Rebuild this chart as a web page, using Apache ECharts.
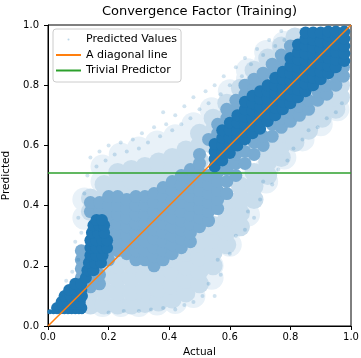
<!DOCTYPE html>
<html>
<head>
<meta charset="utf-8">
<script src="https://cdn.jsdelivr.net/npm/echarts@6/dist/echarts.min.js"></script>
<style>
  html, body { margin: 0; padding: 0; background: #fff; }
  #chart { width: 361px; height: 358px; }
</style>
</head>
<body>
<div id="chart"></div>
<script>
// values: [actual, predicted]
// the predictor's floor (y ~ 0.047)
var floorValues = [
  [0.006, 0.047], [0.018, 0.047], [0.03, 0.047], [0.042, 0.047], [0.054, 0.047],
  [0.066, 0.047], [0.078, 0.047], [0.09, 0.047], [0.102, 0.047], [0.112, 0.047]
];

// where the cloud is solid blue
var denseValues = [
  [0.03, 0.06], [0.05, 0.06], [0.07, 0.06], [0.09, 0.06], [0.11, 0.06],
  [0.045, 0.08], [0.065, 0.08], [0.085, 0.08], [0.105, 0.08],
  [0.055, 0.10], [0.075, 0.10], [0.095, 0.10], [0.112, 0.10],
  [0.07, 0.12], [0.09, 0.12], [0.11, 0.12],
  [0.09, 0.14], [0.11, 0.14],
  [0.125, 0.16], [0.13, 0.185], [0.15, 0.185],
  [0.135, 0.21], [0.155, 0.21], [0.175, 0.21],
  [0.14, 0.235], [0.16, 0.235], [0.18, 0.235],
  [0.14, 0.26], [0.16, 0.26], [0.18, 0.26], [0.195, 0.26],
  [0.14, 0.285], [0.16, 0.285], [0.18, 0.285], [0.195, 0.285],
  [0.145, 0.31], [0.165, 0.31], [0.185, 0.31],
  [0.15, 0.335], [0.17, 0.335], [0.185, 0.335],
  [0.16, 0.352], [0.178, 0.352],
  [0.55, 0.53], [0.55, 0.555], [0.55, 0.58], [0.55, 0.605],
  [0.575, 0.55], [0.575, 0.575], [0.575, 0.6], [0.575, 0.625], [0.575, 0.65],
  [0.6, 0.575], [0.6, 0.6], [0.6, 0.625], [0.6, 0.65], [0.6, 0.675],
  [0.625, 0.6], [0.625, 0.625], [0.625, 0.65], [0.625, 0.675], [0.625, 0.7],
  [0.65, 0.62], [0.65, 0.645], [0.65, 0.67], [0.65, 0.695], [0.65, 0.72], [0.65, 0.745],
  [0.675, 0.64], [0.675, 0.665], [0.675, 0.69], [0.675, 0.715], [0.675, 0.74], [0.675, 0.765],
  [0.7, 0.655], [0.7, 0.68], [0.7, 0.705], [0.7, 0.73], [0.7, 0.755], [0.7, 0.78],
  [0.725, 0.68], [0.725, 0.705], [0.725, 0.73], [0.725, 0.755], [0.725, 0.78], [0.725, 0.8],
  [0.75, 0.7], [0.75, 0.725], [0.75, 0.75], [0.75, 0.775], [0.75, 0.8], [0.75, 0.825],
  [0.775, 0.72], [0.775, 0.745], [0.775, 0.77], [0.775, 0.795], [0.775, 0.82], [0.775, 0.845],
  [0.8, 0.74], [0.8, 0.765], [0.8, 0.79], [0.8, 0.815], [0.8, 0.84], [0.8, 0.865], [0.8, 0.89],
  [0.825, 0.76], [0.825, 0.785], [0.825, 0.81], [0.825, 0.835], [0.825, 0.86], [0.825, 0.885], [0.825, 0.91], [0.825, 0.935],
  [0.85, 0.78], [0.85, 0.805], [0.85, 0.83], [0.85, 0.855], [0.85, 0.88], [0.85, 0.905], [0.85, 0.93], [0.85, 0.955], [0.85, 0.975],
  [0.875, 0.8], [0.875, 0.825], [0.875, 0.85], [0.875, 0.875], [0.875, 0.9], [0.875, 0.925], [0.875, 0.95], [0.875, 0.975],
  [0.9, 0.82], [0.9, 0.845], [0.9, 0.87], [0.9, 0.895], [0.9, 0.92], [0.9, 0.945], [0.9, 0.975],
  [0.925, 0.84], [0.925, 0.865], [0.925, 0.89], [0.925, 0.915], [0.925, 0.94], [0.925, 0.965], [0.925, 0.978],
  [0.95, 0.86], [0.95, 0.885], [0.95, 0.91], [0.95, 0.935], [0.95, 0.96], [0.95, 0.978],
  [0.978, 0.88], [0.978, 0.905], [0.978, 0.93], [0.978, 0.955], [0.978, 0.978]
];

// half-tone parts of the cloud
var mediumValues = [
  [0.11, 0.16], [0.11, 0.19], [0.11, 0.22], [0.11, 0.25],
  [0.14, 0.13], [0.14, 0.16], [0.14, 0.38], [0.14, 0.41],
  [0.17, 0.14], [0.17, 0.17], [0.17, 0.38], [0.17, 0.41],
  [0.2, 0.22], [0.2, 0.25], [0.2, 0.28], [0.2, 0.31], [0.2, 0.34], [0.2, 0.37], [0.2, 0.4], [0.2, 0.43],
  [0.23, 0.25], [0.23, 0.28], [0.23, 0.31], [0.23, 0.34], [0.23, 0.37], [0.23, 0.4], [0.23, 0.43],
  [0.26, 0.24], [0.26, 0.27], [0.26, 0.3], [0.26, 0.33], [0.26, 0.36], [0.26, 0.39], [0.26, 0.42],
  [0.29, 0.22], [0.29, 0.25], [0.29, 0.28], [0.29, 0.31], [0.29, 0.34], [0.29, 0.37], [0.29, 0.4], [0.29, 0.43],
  [0.32, 0.22], [0.32, 0.25], [0.32, 0.28], [0.32, 0.31], [0.32, 0.34], [0.32, 0.37], [0.32, 0.4], [0.32, 0.43],
  [0.35, 0.2], [0.35, 0.23], [0.35, 0.26], [0.35, 0.29], [0.35, 0.32], [0.35, 0.35], [0.35, 0.38], [0.35, 0.41], [0.35, 0.44],
  [0.38, 0.22], [0.38, 0.25], [0.38, 0.28], [0.38, 0.31], [0.38, 0.34], [0.38, 0.37], [0.38, 0.4], [0.38, 0.43], [0.38, 0.46],
  [0.41, 0.24], [0.41, 0.27], [0.41, 0.3], [0.41, 0.33], [0.41, 0.36], [0.41, 0.39], [0.41, 0.42], [0.41, 0.45], [0.41, 0.48],
  [0.44, 0.26], [0.44, 0.29], [0.44, 0.32], [0.44, 0.35], [0.44, 0.38], [0.44, 0.41], [0.44, 0.44], [0.44, 0.47], [0.44, 0.5],
  [0.47, 0.28], [0.47, 0.31], [0.47, 0.34], [0.47, 0.37], [0.47, 0.4], [0.47, 0.43], [0.47, 0.46], [0.47, 0.49], [0.47, 0.52],
  [0.5, 0.33], [0.5, 0.36], [0.5, 0.39], [0.5, 0.42], [0.5, 0.45], [0.5, 0.48], [0.5, 0.51], [0.5, 0.54], [0.5, 0.57],
  [0.53, 0.35], [0.53, 0.38], [0.53, 0.41], [0.53, 0.44], [0.53, 0.47], [0.53, 0.5], [0.53, 0.62],
  [0.56, 0.39], [0.56, 0.42], [0.56, 0.45], [0.56, 0.48], [0.56, 0.51], [0.56, 0.64], [0.56, 0.67],
  [0.59, 0.44], [0.59, 0.48], [0.59, 0.52], [0.59, 0.55], [0.59, 0.69], [0.59, 0.72],
  [0.62, 0.5], [0.62, 0.54], [0.62, 0.57], [0.62, 0.72], [0.62, 0.75],
  [0.65, 0.54], [0.65, 0.58], [0.65, 0.77], [0.65, 0.8],
  [0.68, 0.57], [0.68, 0.61], [0.68, 0.79], [0.68, 0.82],
  [0.71, 0.6], [0.71, 0.63], [0.71, 0.81], [0.71, 0.84],
  [0.74, 0.63], [0.74, 0.67], [0.74, 0.84], [0.74, 0.87],
  [0.77, 0.66], [0.77, 0.69], [0.77, 0.87], [0.77, 0.9],
  [0.8, 0.68], [0.8, 0.71], [0.8, 0.9], [0.8, 0.93],
  [0.83, 0.7], [0.83, 0.73], [0.86, 0.72], [0.86, 0.75],
  [0.89, 0.75], [0.89, 0.78], [0.92, 0.77], [0.92, 0.8],
  [0.95, 0.8], [0.95, 0.83], [0.975, 0.83], [0.975, 0.86]
];

// pale parts of the cloud
var lightValues = [
  [0.14, 0.07], [0.14, 0.115], [0.14, 0.16], [0.14, 0.38], [0.14, 0.425],
  [0.185, 0.07], [0.185, 0.115], [0.185, 0.16], [0.185, 0.205], [0.185, 0.38], [0.185, 0.425], [0.185, 0.47],
  [0.23, 0.07], [0.23, 0.115], [0.23, 0.16], [0.23, 0.205], [0.23, 0.25], [0.23, 0.43], [0.23, 0.475], [0.23, 0.51],
  [0.275, 0.07], [0.275, 0.115], [0.275, 0.16], [0.275, 0.205], [0.275, 0.25], [0.275, 0.44], [0.275, 0.485], [0.275, 0.52],
  [0.32, 0.075], [0.32, 0.12], [0.32, 0.165], [0.32, 0.21], [0.32, 0.255], [0.32, 0.45], [0.32, 0.495], [0.32, 0.53],
  [0.365, 0.08], [0.365, 0.125], [0.365, 0.17], [0.365, 0.215], [0.365, 0.26], [0.365, 0.46], [0.365, 0.505], [0.365, 0.545],
  [0.41, 0.09], [0.41, 0.135], [0.41, 0.18], [0.41, 0.225], [0.41, 0.27], [0.41, 0.47], [0.41, 0.515], [0.41, 0.56],
  [0.455, 0.11], [0.455, 0.155], [0.455, 0.2], [0.455, 0.245], [0.455, 0.29], [0.455, 0.5], [0.455, 0.545], [0.455, 0.585],
  [0.5, 0.14], [0.5, 0.185], [0.5, 0.23], [0.5, 0.275], [0.5, 0.32], [0.5, 0.55], [0.5, 0.6], [0.5, 0.64],
  [0.545, 0.2], [0.545, 0.245], [0.545, 0.29], [0.545, 0.335], [0.545, 0.6], [0.545, 0.645], [0.545, 0.69],
  [0.59, 0.27], [0.59, 0.315], [0.59, 0.36], [0.59, 0.405], [0.59, 0.65], [0.59, 0.695], [0.59, 0.74],
  [0.635, 0.33], [0.635, 0.375], [0.635, 0.42], [0.635, 0.465], [0.635, 0.7], [0.635, 0.745], [0.635, 0.79],
  [0.68, 0.42], [0.68, 0.465], [0.68, 0.51], [0.68, 0.76], [0.68, 0.805], [0.68, 0.85],
  [0.725, 0.5], [0.725, 0.545], [0.725, 0.59], [0.725, 0.8], [0.725, 0.845], [0.725, 0.89],
  [0.77, 0.56], [0.77, 0.6], [0.77, 0.64], [0.77, 0.84], [0.77, 0.885], [0.77, 0.93],
  [0.815, 0.61], [0.815, 0.65], [0.815, 0.69], [0.815, 0.9], [0.815, 0.94], [0.815, 0.96],
  [0.86, 0.65], [0.86, 0.69], [0.86, 0.73],
  [0.905, 0.69], [0.905, 0.73], [0.905, 0.77],
  [0.95, 0.72], [0.95, 0.76], [0.95, 0.8],
  [0.965, 0.76], [0.965, 0.8]
];

// faint outer halo of the cloud
var haloValues = [
  [0.12, 0.36], [0.12, 0.42],
  [0.18, 0.07], [0.18, 0.12], [0.18, 0.18], [0.18, 0.42], [0.18, 0.48], [0.18, 0.53],
  [0.24, 0.07], [0.24, 0.12], [0.24, 0.18], [0.24, 0.48], [0.24, 0.54], [0.24, 0.57],
  [0.3, 0.07], [0.3, 0.12], [0.3, 0.18], [0.3, 0.48], [0.3, 0.54], [0.3, 0.59],
  [0.36, 0.075], [0.36, 0.12], [0.36, 0.18], [0.36, 0.5], [0.36, 0.56], [0.36, 0.61],
  [0.42, 0.08], [0.42, 0.12], [0.42, 0.18], [0.42, 0.54], [0.42, 0.6], [0.42, 0.63],
  [0.48, 0.1], [0.48, 0.14], [0.48, 0.2], [0.48, 0.56], [0.48, 0.62], [0.48, 0.67],
  [0.54, 0.16], [0.54, 0.2], [0.54, 0.26], [0.54, 0.32], [0.54, 0.62], [0.54, 0.68], [0.54, 0.72],
  [0.6, 0.27], [0.6, 0.32], [0.6, 0.38], [0.6, 0.68], [0.6, 0.74], [0.6, 0.78],
  [0.66, 0.37], [0.66, 0.42], [0.66, 0.48], [0.66, 0.76], [0.66, 0.82], [0.66, 0.85],
  [0.72, 0.48], [0.72, 0.52], [0.72, 0.58], [0.72, 0.82], [0.72, 0.88], [0.72, 0.91],
  [0.78, 0.56], [0.78, 0.6], [0.78, 0.66], [0.78, 0.88], [0.78, 0.94],
  [0.84, 0.62], [0.84, 0.66], [0.84, 0.72], [0.84, 0.95],
  [0.9, 0.67], [0.9, 0.71], [0.9, 0.76],
  [0.955, 0.72], [0.955, 0.76], [0.955, 0.8]
];

// single stray points at the edge of the cloud
var speckleValues = [
  [0.12, 0.44], [0.13, 0.5], [0.14, 0.56], [0.16, 0.53], [0.17, 0.58], [0.19, 0.55], [0.2, 0.6],
  [0.22, 0.57], [0.24, 0.61], [0.26, 0.58], [0.28, 0.62], [0.3, 0.59], [0.31, 0.64], [0.33, 0.61],
  [0.35, 0.66], [0.37, 0.63], [0.38, 0.71], [0.39, 0.67], [0.41, 0.65], [0.42, 0.7], [0.44, 0.67],
  [0.45, 0.73], [0.47, 0.69], [0.48, 0.76], [0.5, 0.72], [0.52, 0.78], [0.53, 0.74], [0.55, 0.8],
  [0.57, 0.77], [0.58, 0.83], [0.6, 0.8], [0.62, 0.86], [0.64, 0.83], [0.65, 0.89], [0.67, 0.87],
  [0.69, 0.92], [0.71, 0.9], [0.73, 0.95], [0.75, 0.93], [0.77, 0.98], [0.78, 0.95],
  [0.1, 0.36], [0.09, 0.28], [0.1, 0.22], [0.08, 0.18], [0.06, 0.15], [0.04, 0.1], [0.11, 0.31],
  [0.2, 0.045], [0.25, 0.05], [0.3, 0.05], [0.34, 0.055], [0.38, 0.06], [0.42, 0.055], [0.45, 0.07],
  [0.48, 0.08], [0.51, 0.1], [0.55, 0.1], [0.53, 0.14], [0.57, 0.17], [0.56, 0.22], [0.6, 0.24],
  [0.62, 0.3], [0.65, 0.32], [0.66, 0.38], [0.68, 0.36], [0.7, 0.42], [0.71, 0.48], [0.74, 0.47],
  [0.76, 0.52], [0.79, 0.55], [0.81, 0.59], [0.84, 0.62], [0.86, 0.65], [0.89, 0.66], [0.92, 0.69],
  [0.95, 0.71], [0.97, 0.74]
];

var diagonalLine = [[0, 0], [1, 1]];
var trivialLevel = 0.508;
var trivialLine = [[0, trivialLevel], [1, trivialLevel]];

var axisMin = 0;
var axisMax = 1;
var tickStep = 0.2;

var font = 'DejaVu Sans';

var chart = echarts.init(document.getElementById('chart'));

// one tone of the point cloud; flat colours so overlaps stay even
function cloud(data, size, color, opacity) {
  return {
    name: 'Predicted Values',
    type: 'scatter',
    data: data,
    symbol: 'circle',
    symbolSize: size,
    itemStyle: { color: color, opacity: opacity, borderWidth: 0 },
    emphasis: { disabled: true },
    silent: true,
    animation: false
  };
}

chart.setOption({
  animation: false,
  title: {
    text: 'Convergence Factor (Training)',
    left: 199.5,
    textAlign: 'center',
    top: 5,
    padding: 0,
    textStyle: { fontFamily: font, fontSize: 13, fontWeight: 'normal', color: '#000' }
  },
  legend: {
    orient: 'vertical',
    left: 53,
    top: 29,
    itemWidth: 25,
    itemHeight: 2,
    itemGap: 4.5,
    padding: [5, 4, 6, 3],
    backgroundColor: 'rgba(255,255,255,0.8)',
    borderColor: '#cccccc',
    borderWidth: 1,
    borderRadius: 3,
    textStyle: { fontFamily: font, fontSize: 11, color: '#000' },
    data: [
      { name: 'Predicted Values', icon: 'circle', itemStyle: { color: 'rgba(31,119,180,0.3)', opacity: 1 } },
      { name: 'A diagonal line', icon: 'rect' },
      { name: 'Trivial Predictor', icon: 'rect' }
    ]
  },
  grid: {
    left: 48, right: 10, top: 25, bottom: 32,
    outerBoundsMode: 'none',
    show: true, borderColor: '#000', borderWidth: 1
  },
  xAxis: {
    type: 'value',
    min: axisMin, max: axisMax, interval: tickStep,
    name: 'Actual',
    nameLocation: 'middle',
    nameGap: 20,
    nameTextStyle: { fontFamily: font, fontSize: 10.5, color: '#000' },
    axisLine: { show: true, lineStyle: { color: '#000', width: 1 } },
    axisTick: { show: true, length: 4, lineStyle: { color: '#000' } },
    axisLabel: {
      fontFamily: font, fontSize: 10, color: '#000', margin: 6,
      formatter: function (v) { return v.toFixed(1); }
    },
    splitLine: { show: false }
  },
  yAxis: {
    type: 'value',
    min: axisMin, max: axisMax, interval: tickStep,
    name: 'Predicted',
    nameLocation: 'middle',
    nameGap: 30,
    nameTextStyle: { fontFamily: font, fontSize: 10.5, color: '#000' },
    axisLine: { show: true, lineStyle: { color: '#000', width: 1 } },
    axisTick: { show: true, length: 4, lineStyle: { color: '#000' } },
    axisLabel: {
      fontFamily: font, fontSize: 10, color: '#000', margin: 9,
      formatter: function (v) { return v.toFixed(1); }
    },
    splitLine: { show: false }
  },
  series: [
    cloud(haloValues, 24, '#e8f1f8', 1),
    cloud(lightValues, 19, '#c9ddec', 1),
    cloud(mediumValues, 13, '#78abd2', 1),
    cloud(denseValues, 12, '#1f77b4', 1),
    cloud(floorValues, 5, '#1f77b4', 1),
    cloud(speckleValues, 4, '#1f77b4', 0.2),
    {
      name: 'A diagonal line',
      type: 'line',
      data: diagonalLine,
      symbol: 'none',
      lineStyle: { color: '#ff7f0e', width: 1.5 },
      itemStyle: { color: '#ff7f0e' },
      z: 5,
      animation: false
    },
    {
      name: 'Trivial Predictor',
      type: 'line',
      data: trivialLine,
      symbol: 'none',
      lineStyle: { color: '#2ca02c', width: 1.5 },
      itemStyle: { color: '#2ca02c' },
      z: 5,
      animation: false
    }
  ]
});

window.onresize = function () { chart.resize(); };
</script>
</body>
</html>
